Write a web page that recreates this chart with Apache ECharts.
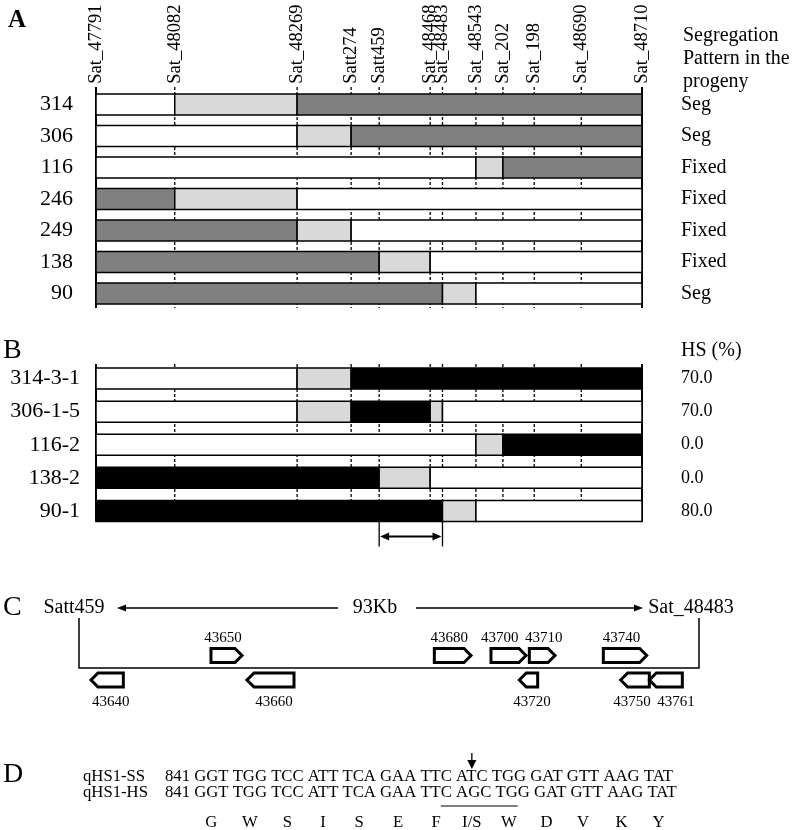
<!DOCTYPE html>
<html><head><meta charset="utf-8">
<script src="https://cdn.jsdelivr.net/npm/echarts@6/dist/echarts.min.js"></script>
<style>html,body{margin:0;padding:0;background:#fff}#c{width:793px;height:830px}</style>
</head><body><div id="c"></div>
<script>
// ---------- DATA ----------
const markers   = ['Sat_47791','Sat_48082','Sat_48269','Satt274','Satt459','Sat_48468','Sat_48483','Sat_48543','Sat_202','Sat_198','Sat_48690','Sat_48710'];
const markerPos = [0, 78.7, 201, 255, 283, 334, 346.3, 379.7, 406.7, 438, 485, 545.7];

// genotype per marker interval: W = white, L = light grey, D = dark grey, B = black
const rowsA  = ['314','306','116','246','249','138','90'];
const genoA  = ['WLDDDDDDDDD','WWLDDDDDDDD','WWWWWWWLDDD','DLWWWWWWWWW','DDLWWWWWWWW','DDDDLWWWWWW','DDDDDDLWWWW'];
const segA   = ['Seg','Seg','Fixed','Fixed','Fixed','Fixed','Seg'];

const rowsB  = ['314-3-1','306-1-5','116-2','138-2','90-1'];
const genoB  = ['WWLBBBBBBBB','WWLBBLWWWWW','WWWWWWWLBBB','BBBBLWWWWWW','BBBBBBLWWWW'];
const hsB    = ['70.0','70.0','0.0','0.0','80.0'];
const qtlInterval = ['Satt459','Sat_48483'];

const flankC     = ['Satt459','Sat_48483'];
const regionKb   = 93;
const scaleLabel = '93Kb';
const geneNames  = ['43640','43650','43660','43680','43700','43710','43720','43740','43750','43761'];
const geneStart  = [1.8, 19.8, 25.2, 53.3, 61.8, 67.55, 66.05, 78.65, 81.25, 85.55];
const geneEnd    = [6.65, 24.45, 32.25, 58.8, 67.05, 71.4, 68.8, 85.15, 85.55, 90.5];
const geneStrand = [-1, 1, -1, 1, 1, 1, -1, 1, -1, -1];

const seqNames = ['qHS1-SS','qHS1-HS'];
const seqSS = '841 GGT TGG TCC ATT TCA GAA TTC ATC TGG GAT GTT AAG TAT';
const seqHS = '841 GGT TGG TCC ATT TCA GAA TTC AGC TGG GAT GTT AAG TAT';
const aminoAcids = ['G','W','S','I','S','E','F','I/S','W','D','V','K','Y'];
const mutCodon = 7;
const underlineRange = [30, 38];

// ---------- STYLE ----------
const FONT = '"Liberation Serif","Times New Roman",serif';
const CODES = 'WLDB';
const FILL = ['#ffffff','#d9d9d9','#808080','#000000'];
const BAR_H = 21;

function segments(genos){
  const out = [];
  genos.forEach((g, r) => {
    let s = 0;
    for (let i = 1; i <= g.length; i++) {
      if (i === g.length || g[i] !== g[s]) { out.push([markerPos[s], markerPos[i], r, CODES.indexOf(g[s])]); s = i; }
    }
  });
  return out;
}
function barItem(params, api){
  const a = api.coord([api.value(0), api.value(2)]);
  const b = api.coord([api.value(1), api.value(2)]);
  return {type:'rect', shape:{x:a[0], y:a[1]-BAR_H/2, width:b[0]-a[0], height:BAR_H},
          style:{fill:FILL[api.value(3)], stroke:'#000', lineWidth:1.5}};
}
function guideItem(nRows, extTop, extBot){
  return function(params, api){
    const x = api.value(0), i = params.dataIndex;
    const p = api.coord([x, 0]), q = api.coord([x, nRows-1]);
    const edge = (i === 0 || i === markerPos.length-1);
    return {type:'line', shape:{x1:p[0], y1:p[1]-BAR_H/2-extTop, x2:p[0], y2:q[1]+BAR_H/2+extBot},
            style:{stroke:'#000', lineWidth: edge?2:1.3, lineDash: edge?null:[3,2]}};
  };
}
function arrowHead(tx, ty, dir, len, hw){
  return {type:'polygon', shape:{points:[[tx,ty],[tx-dir*len,ty-hw],[tx-dir*len,ty+hw]]}, style:{fill:'#000'}};
}

const chart = echarts.init(document.getElementById('c'), null, {width:793, height:830});
const guideData = markerPos.map(p => [p, 0]);

// text measuring for panel D
const ctx = document.createElement('canvas').getContext('2d');
const DFS = 16.7;
ctx.font = DFS + 'px "Liberation Serif"';
const tw = s => ctx.measureText(s).width;
const seqX = 165, nameX = 83;
const codonCenter = (seq, k) => { const st = 4 + 4*k; return seqX + tw(seq.slice(0, st)) + tw(seq.slice(st, st+3))/2; };

const dText = (t, x, y, align) => ({type:'text', x, y, style:{text:t, font: DFS+'px '+FONT, fill:'#000', textAlign:align||'left', textVerticalAlign:'middle'}});
const graphics = [
  {type:'text', x:8, y:21, style:{text:'A', font:'bold 25px '+FONT, fill:'#000', textVerticalAlign:'middle'}},
  {type:'text', x:3, y:351, style:{text:'B', font:'28px '+FONT, fill:'#000', textVerticalAlign:'middle'}},
  {type:'text', x:3, y:608, style:{text:'C', font:'28px '+FONT, fill:'#000', textVerticalAlign:'middle'}},
  {type:'text', x:3, y:775, style:{text:'D', font:'28px '+FONT, fill:'#000', textVerticalAlign:'middle'}},
  {type:'text', x:683, y:24, style:{text:'Segregation\nPattern in the\nprogeny', font:'20px '+FONT, lineHeight:23, fill:'#000', textVerticalAlign:'top'}},
  {type:'text', x:681, y:351, style:{text:'HS (%)', font:'20px '+FONT, fill:'#000', textVerticalAlign:'middle'}},
  dText(seqNames[0], nameX, 777), dText(seqSS, seqX, 777),
  dText(seqNames[1], nameX, 793), dText(seqHS, seqX, 793)
];
aminoAcids.forEach((aa, k) => graphics.push(dText(aa, codonCenter(seqSS, k), 823, 'center')));
const ax = codonCenter(seqSS, mutCodon);
graphics.push({type:'line', shape:{x1:ax, y1:753, x2:ax, y2:762}, style:{stroke:'#000', lineWidth:1.3}});
graphics.push({type:'polygon', shape:{points:[[ax-4.5,760],[ax+4.5,760],[ax,769]]}, style:{fill:'#000'}});
graphics.push({type:'line', shape:{x1:seqX+tw(seqHS.slice(0,underlineRange[0])), y1:806, x2:seqX+tw(seqHS.slice(0,underlineRange[1])), y2:806}, style:{stroke:'#555', lineWidth:1.5}});

const catY = (grid, data, labelOpt) => ({gridIndex:grid, type:'category', data, inverse:true,
  axisLine:{show:false}, axisTick:{show:false}, splitLine:{show:false},
  axisLabel:Object.assign({color:'#000', fontFamily:FONT}, labelOpt)});

const option = {
  animation:false,
  backgroundColor:'#fff',
  grid:[
    {left:96, right:151, top:88.75, height:220.5, outerBoundsMode:'none'},
    {left:96, right:151, top:362, height:165.5, outerBoundsMode:'none'},
    {left:79, right:94, top:618, height:50, outerBoundsMode:'none'}
  ],
  xAxis:[
    {gridIndex:0, type:'value', position:'top', min:0, max:markerPos[markerPos.length-1],
     axisLine:{show:false}, axisTick:{show:false}, splitLine:{show:false},
     axisLabel:{customValues:markerPos, rotate:-90, margin:5, fontSize:18.5, fontFamily:FONT, color:'#000',
                formatter:v => markers[markerPos.indexOf(v)]}},
    {gridIndex:1, type:'value', min:0, max:markerPos[markerPos.length-1], show:false},
    {gridIndex:2, type:'value', min:0, max:regionKb, show:false}
  ],
  yAxis:[
    catY(0, rowsA, {fontSize:22, margin:23}),
    Object.assign(catY(0, segA, {fontSize:20, margin:39}), {position:'right'}),
    catY(1, rowsB, {fontSize:22, margin:16}),
    Object.assign(catY(1, hsB, {fontSize:18, margin:39}), {position:'right'}),
    {gridIndex:2, type:'value', min:0, max:1, show:false}
  ],
  graphic:graphics,
  series:[
    {type:'custom', xAxisIndex:0, yAxisIndex:0, clip:false, z:1, data:guideData, encode:{x:0,y:1}, renderItem:guideItem(rowsA.length, 7, 4)},
    {type:'custom', xAxisIndex:0, yAxisIndex:0, clip:false, z:2, data:segments(genoA), encode:{x:[0,1],y:2}, renderItem:barItem},
    {type:'custom', xAxisIndex:1, yAxisIndex:2, clip:false, z:1, data:guideData, encode:{x:0,y:1}, renderItem:guideItem(rowsB.length, 4, 0)},
    {type:'custom', xAxisIndex:1, yAxisIndex:2, clip:false, z:2, data:segments(genoB), encode:{x:[0,1],y:2}, renderItem:barItem},
    {type:'custom', xAxisIndex:1, yAxisIndex:2, clip:false, z:3,
     data:[[markerPos[markers.indexOf(qtlInterval[0])], markerPos[markers.indexOf(qtlInterval[1])], rowsB.length-1]],
     encode:{x:[0,1], y:2},
     renderItem:function(params, api){
       const a = api.coord([api.value(0), api.value(2)]), b = api.coord([api.value(1), api.value(2)]);
       const yb = a[1] + BAR_H/2, ya = yb + 15;
       return {type:'group', children:[
         {type:'line', shape:{x1:a[0], y1:yb, x2:a[0], y2:yb+25}, style:{stroke:'#000', lineWidth:1.3}},
         {type:'line', shape:{x1:b[0], y1:yb, x2:b[0], y2:yb+25}, style:{stroke:'#000', lineWidth:1.3}},
         {type:'line', shape:{x1:a[0]+4, y1:ya, x2:b[0]-4, y2:ya}, style:{stroke:'#000', lineWidth:2}},
         arrowHead(a[0]+1, ya, -1, 9, 4), arrowHead(b[0]-1, ya, 1, 9, 4)
       ]};
     }},
    {type:'custom', xAxisIndex:2, yAxisIndex:4, clip:false, z:1, data:[[0, regionKb]], encode:{x:[0,1], y:-1},
     renderItem:function(params, api){
       const p0 = api.coord([api.value(0), 0]), p1 = api.coord([api.value(1), 0]);
       const top = api.coord([0, 1])[1], base = p0[1];
       const mid = (p0[0]+p1[0])/2, ty = top - 10;
       const txt = (t, x) => ({type:'text', style:{text:t, x, y:ty, font:'20px '+FONT, fill:'#000', textAlign:'center', textVerticalAlign:'middle'}});
       return {type:'group', children:[
         {type:'polyline', shape:{points:[[p0[0],top],[p0[0],base],[p1[0],base],[p1[0],top]]}, style:{stroke:'#000', lineWidth:1.5, fill:null}},
         txt(flankC[0], p0[0]-5), txt(flankC[1], p1[0]-8), txt(scaleLabel, mid-14),
         {type:'line', shape:{x1:mid-51, y1:ty, x2:p0[0]+45, y2:ty}, style:{stroke:'#000', lineWidth:1.3}},
         arrowHead(p0[0]+38, ty, -1, 9, 3.5),
         {type:'line', shape:{x1:mid+27, y1:ty, x2:p1[0]-63, y2:ty}, style:{stroke:'#000', lineWidth:1.3}},
         arrowHead(p1[0]-56, ty, 1, 9, 3.5)
       ]};
     }},
    {type:'custom', xAxisIndex:2, yAxisIndex:4, clip:false, z:2,
     data:geneNames.map((n, i) => [geneStart[i], geneEnd[i], geneStrand[i], i]), encode:{x:[0,1], y:-1},
     renderItem:function(params, api){
       const s = api.value(0), e = api.value(1), dir = api.value(2), i = api.value(3);
       const a = api.coord([s, 0]), b = api.coord([e, 0]);
       const base = a[1], tip = 7, h = 14;
       const cy = dir > 0 ? base - 12.5 : base + 12;
       const y1 = cy - h/2, y2 = cy + h/2;
       const pts = dir > 0
         ? [[a[0],y1],[b[0]-tip,y1],[b[0],cy],[b[0]-tip,y2],[a[0],y2]]
         : [[b[0],y1],[a[0]+tip,y1],[a[0],cy],[a[0]+tip,y2],[b[0],y2]];
       const centerOf = k => { const p = api.coord([geneStart[k],0])[0], q = api.coord([geneEnd[k],0])[0];
         return geneStrand[k] > 0 ? (p + q - tip)/2 : (p + tip + q)/2; };
       let c = centerOf(i);
       const minGap = 44;
       for (let k = 0; k < geneNames.length; k++) {
         if (k === i || geneStrand[k] !== dir) continue;
         const ck = centerOf(k), d = c - ck;
         if (Math.abs(d) < minGap) c += (d >= 0 ? 1 : -1) * (minGap - Math.abs(d)) / 2;
       }
       return {type:'group', children:[
         {type:'polygon', shape:{points:pts}, style:{fill:'#fff', stroke:'#000', lineWidth:3, lineJoin:'miter'}},
         {type:'text', style:{text:geneNames[i], x:c, y: dir > 0 ? base - 30 : base + 34, font:'15px '+FONT, fill:'#000', textAlign:'center', textVerticalAlign:'middle'}}
       ]};
     }}
  ]
};
chart.setOption(option);
</script>
</body></html>
